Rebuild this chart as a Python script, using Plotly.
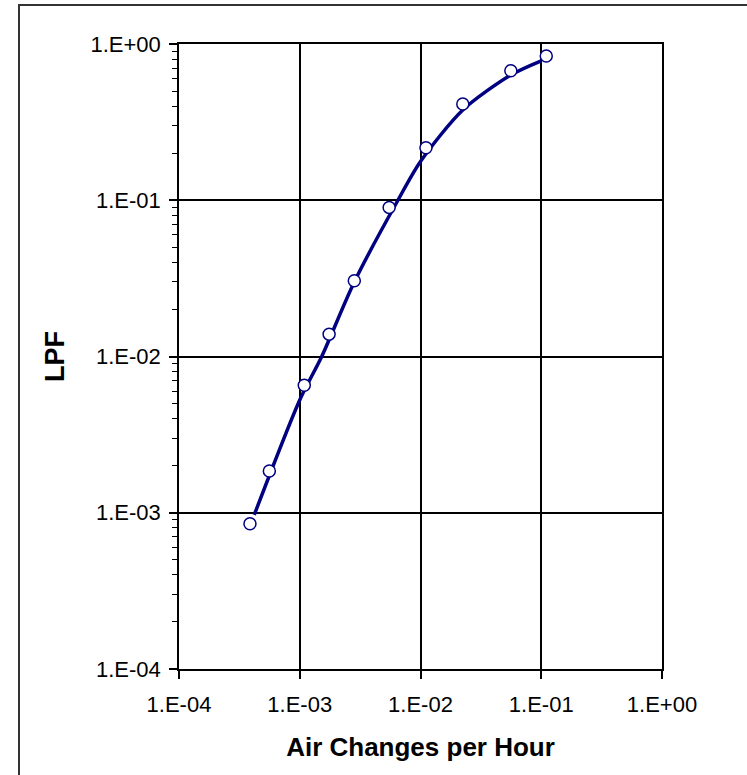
import plotly.graph_objects as go

# Measured data points (Air Changes per Hour vs LPF)
ach_points = [3.87e-4, 5.6e-4, 1.09e-3, 1.75e-3, 2.83e-3, 5.5e-3, 1.11e-2, 2.24e-2, 5.6e-2, 1.1e-1]
lpf_points = [8.5e-4, 1.85e-3, 6.55e-3, 1.39e-2, 3.05e-2, 9.0e-2, 2.17e-1, 4.13e-1, 6.75e-1, 8.38e-1]

# Fitted curve
ach_curve = [4.2e-4, 1e-3, 1.52e-3, 2.83e-3, 6.5e-3, 1e-2, 2.24e-2, 5.6e-2, 1e-1]
lpf_curve = [9.7e-4, 5.27e-3, 1e-2, 3.0e-2, 1e-1, 0.177, 0.378, 0.633, 0.78]

tick_vals = [1e-4, 1e-3, 1e-2, 1e-1, 1e0]
tick_text = ["1.E-04", "1.E-03", "1.E-02", "1.E-01", "1.E+00"]

navy = "#000080"

fig = go.Figure()
fig.add_trace(go.Scatter(x=ach_curve, y=lpf_curve, mode="lines",
                         line=dict(color=navy, width=3.5, shape="spline", smoothing=0.8),
                         showlegend=False, hoverinfo="skip"))
fig.add_trace(go.Scatter(x=ach_points, y=lpf_points, mode="markers",
                         marker=dict(symbol="circle", size=12, color="white",
                                     line=dict(color=navy, width=1.5)),
                         showlegend=False))

font_family = "Liberation Sans, Arial, sans-serif"

fig.update_xaxes(type="log", range=[-4, 0], tickvals=tick_vals, ticktext=tick_text,
                 showgrid=True, gridcolor="black", gridwidth=1.5,
                 showline=True, linecolor="black", linewidth=1.5, mirror=True,
                 ticks="outside", ticklen=8, tickcolor="black", tickwidth=1.5,
                 ticklabelstandoff=7,
                 tickfont=dict(family=font_family, size=22, color="black"),
                 zeroline=False,
                 title=dict(text="<b>Air Changes per Hour</b>", standoff=22,
                            font=dict(family=font_family, size=26, color="black")))
fig.update_yaxes(type="log", range=[-4, 0], tickvals=tick_vals, ticktext=tick_text,
                 showgrid=True, gridcolor="black", gridwidth=1.5,
                 showline=True, linecolor="black", linewidth=1.5, mirror=True,
                 ticks="outside", ticklen=8, tickcolor="black", tickwidth=1.5,
                 ticklabelstandoff=4,
                 minor=dict(ticks="outside", ticklen=5, tickcolor="black", tickwidth=1,
                            dtick="D1", showgrid=False),
                 tickfont=dict(family=font_family, size=22, color="black"),
                 zeroline=False,
                 title=dict(text="<b>LPF</b>", standoff=18,
                            font=dict(family=font_family, size=27, color="black")))

fig.update_layout(width=747, height=775,
                  margin=dict(l=179, r=85, t=44, b=106),
                  paper_bgcolor="white", plot_bgcolor="white",
                  showlegend=False)

# outer chart border (left and top edges visible)
fig.add_shape(type="rect", xref="paper", yref="paper",
              x0=(19 - 179) / 483, x1=(800 - 179) / 483,
              y0=(669 - 820) / 625, y1=(669 - 5) / 625,
              line=dict(color="#333333", width=2), fillcolor="rgba(0,0,0,0)", layer="below")

fig.write_html("out.html")
